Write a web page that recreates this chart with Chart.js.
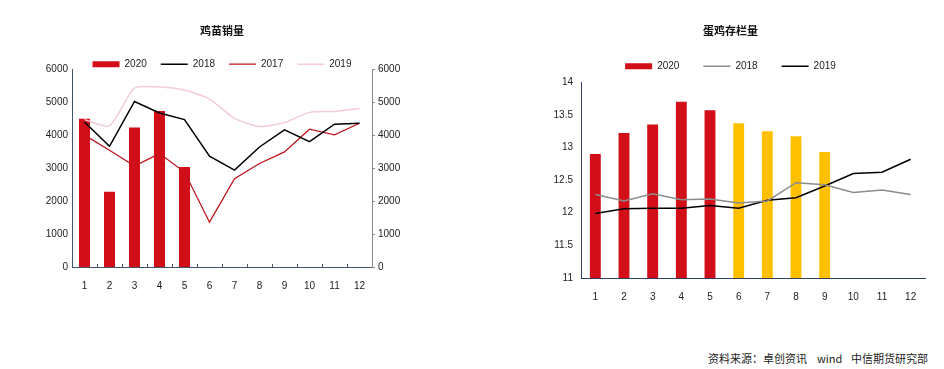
<!DOCTYPE html>
<html>
<head>
<meta charset="utf-8">
<script src="https://cdn.jsdelivr.net/npm/chart.js@4/dist/chart.umd.min.js"></script>
<style>
  html, body { margin:0; padding:0; background:#fff; width:944px; height:369px; overflow:hidden; }
  .box { position:absolute; top:0; }
  #c1box { left:0; width:470px; height:300px; }
  #c2box { left:470px; width:474px; height:310px; }
  .src { position:absolute; top:350px; font: 11px "Noto Sans CJK SC", sans-serif; color:#222; white-space:nowrap; }
</style>
</head>
<body>
<div id="c1box" class="box"><canvas id="c1" width="470" height="300"></canvas></div>
<div id="c2box" class="box"><canvas id="c2" width="474" height="310"></canvas></div>
<span class="src" style="left:708px">资料来源：卓创资讯</span>
<span class="src" style="left:817px">wind</span>
<span class="src" style="left:851px">中信期货研究部</span>
<script>
// ---------- data ----------
const months = ['1','2','3','4','5','6','7','8','9','10','11','12'];

// 鸡苗销量
const chickTitle = '鸡苗销量';
const chick2020 = [4500, 2280, 4230, 4730, 3030];
const chick2018 = [4400, 3660, 5020, 4670, 4470, 3360, 2940, 3640, 4160, 3800, 4330, 4360];
const chick2017 = [4000, 3540, 3060, 3440, 2880, 1360, 2680, 3140, 3490, 4180, 4010, 4360];
const chick2019 = [4470, 4280, 5430, 5460, 5370, 5090, 4510, 4260, 4380, 4690, 4720, 4810];

// 蛋鸡存栏量
const layerTitle = '蛋鸡存栏量';
const layer2020 = [12.90, 13.22, 13.35, 13.70, 13.57, 13.37, 13.25, 13.17, 12.93];
const layer2018 = [12.28, 12.18, 12.29, 12.20, 12.21, 12.15, 12.18, 12.46, 12.43, 12.31, 12.35, 12.28];
const layer2019 = [11.99, 12.06, 12.07, 12.07, 12.11, 12.07, 12.19, 12.23, 12.41, 12.60, 12.62, 12.82];

const RED = '#d20f19';
const YELLOW = '#ffc000';
const FONT = "'Liberation Sans', Arial, sans-serif";
const CJK = "'Noto Sans CJK SC', sans-serif";
Chart.defaults.font.family = FONT;
Chart.defaults.color = '#222';
Chart.defaults.animation = false;
const plain = v => String(v);

function legendHeightPlugin(h) {
  return {
    id: 'legendH',
    beforeInit(chart) {
      const orig = chart.legend.fit;
      chart.legend.fit = function () { orig.call(this); this.height = h; };
    }
  };
}
const innerTicks = {
  id: 'innerTicks',
  afterDatasetsDraw(chart, args, opts) {
    if (!opts.on) return;
    const x = chart.scales.x, ctx = chart.ctx;
    const n = x.ticks.length, w = (x.right - x.left) / n;
    ctx.save();
    ctx.strokeStyle = opts.color; ctx.lineWidth = 1;
    for (let i = 1; i < n; i++) {
      const px = Math.round(x.left + i * w) + 0.5;
      ctx.beginPath(); ctx.moveTo(px, x.top); ctx.lineTo(px, x.top - 3); ctx.stroke();
    }
    ctx.restore();
  }
};

// ---------- chart 1 ----------
new Chart(document.getElementById('c1'), {
  type: 'bar',
  data: {
    labels: months,
    datasets: [
      { type:'bar', label:'2020', data: chick2020, backgroundColor: RED, borderWidth:0,
        categoryPercentage:1, barPercentage:0.44, pointStyle:'rect', order:1, yAxisID:'y' },
      { type:'line', label:'2018', data: chick2018, borderColor:'#000', backgroundColor:'#000', borderWidth:1.5,
        pointRadius:0, pointStyle:'line', tension:0, order:0, yAxisID:'y' },
      { type:'line', label:'2017', data: chick2017, borderColor:'#c0141c', backgroundColor:'#c0141c', borderWidth:1.3,
        pointRadius:0, pointStyle:'line', tension:0, order:0, yAxisID:'y' },
      { type:'line', label:'2019', data: chick2019, borderColor:'#f3cdd3', backgroundColor:'#f3cdd3', borderWidth:1.5,
        pointRadius:0, pointStyle:'line', tension:0.2, order:0, yAxisID:'y' }
    ]
  },
  plugins: [legendHeightPlugin(24), innerTicks],
  options: {
    responsive:false,
    layout: { padding: { left:32, right:58, top:0, bottom:8 } },
    plugins: {
      innerTicks: { on:true, color:'#44546a' },
      tooltip: { enabled:false },
      title: { display:true, text: chickTitle, font:{ family:CJK, size:11, weight:'bold' }, color:'#111',
               padding:{ top:24, bottom:8 } },
      legend: { labels: { usePointStyle:true, pointStyleWidth:27, boxHeight:6, padding:14,
                          font:{ size:10 }, color:'#222', sort:(a,b)=>a.datasetIndex-b.datasetIndex } }
    },
    scales: {
      x: { grid:{ display:false, offset:true }, border:{ color:'#44546a', width:1 },
           ticks:{ font:{ size:10 }, padding:5, maxRotation:0 },
           afterFit(s){ s.height = 25; } },
      y: { min:0, max:6000, position:'left', grid:{ display:false, drawTicks:false }, border:{ color:'#44546a', width:1 },
           ticks:{ stepSize:1000, font:{ size:10 }, padding:4, callback: plain },
           afterFit(s){ s.width = 40; } },
      y1: { min:0, max:6000, position:'right', grid:{ drawOnChartArea:false, drawTicks:true, tickLength:3, color:'#8c8c8c' },
            border:{ color:'#8c8c8c', width:1 },
            ticks:{ stepSize:1000, font:{ size:10 }, padding:3, callback: plain },
            afterFit(s){ s.width = 40; } }
    }
  }
});

// ---------- chart 2 ----------
const layerColors = layer2020.map((v, i) => i < 5 ? RED : YELLOW);
new Chart(document.getElementById('c2'), {
  type: 'bar',
  data: {
    labels: months,
    datasets: [
      { type:'bar', label:'2020', data: layer2020, backgroundColor: layerColors, borderWidth:0,
        categoryPercentage:1, barPercentage:0.38, pointStyle:'rect', order:1 },
      { type:'line', label:'2018', data: layer2018, borderColor:'#8c8c8c', backgroundColor:'#8c8c8c', borderWidth:1.5,
        pointRadius:0, pointStyle:'line', tension:0, order:0 },
      { type:'line', label:'2019', data: layer2019, borderColor:'#000', backgroundColor:'#000', borderWidth:1.5,
        pointRadius:0, pointStyle:'line', tension:0, order:0 }
    ]
  },
  plugins: [legendHeightPlugin(45)],
  options: {
    responsive:false,
    layout: { padding: { left:66, right:19, top:0, bottom:7 } },
    plugins: {
      tooltip: { enabled:false },
      title: { display:true, text: layerTitle, font:{ family:CJK, size:11, weight:'bold' }, color:'#111',
               padding:{ top:24, bottom:0 } },
      legend: { labels: { usePointStyle:true, pointStyleWidth:27, boxHeight:6, padding:24,
                          font:{ size:10 }, color:'#222', sort:(a,b)=>a.datasetIndex-b.datasetIndex } }
    },
    scales: {
      x: { grid:{ display:false, offset:true }, border:{ color:'#2f3d63', width:1 },
           ticks:{ font:{ size:10 }, padding:5, maxRotation:0 },
           afterFit(s){ s.height = 25; } },
      y: { min:11, max:14, grid:{ display:false, drawTicks:false }, border:{ color:'#2f3d63', width:1 },
           ticks:{ stepSize:0.5, font:{ size:10 }, padding:8, callback: plain },
           afterFit(s){ s.width = 45; } }
    }
  }
});
</script>
</body>
</html>
